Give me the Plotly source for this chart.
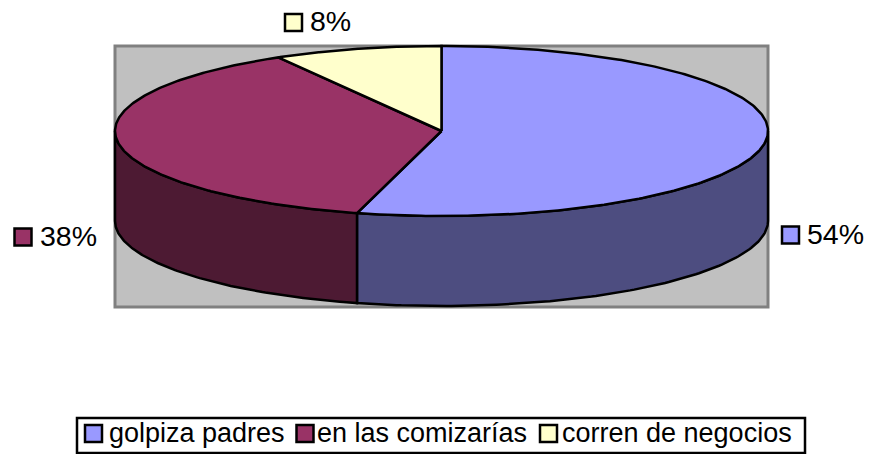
import numpy as np
import plotly.graph_objects as go

# Data
categories = ["golpiza padres", "en las comizarías", "corren de negocios"]
counts = [13, 9, 2]
percent_labels = ["54%", "38%", "8%"]

# Style
top_colors = ["#9999FF", "#993366", "#FFFFCC"]
side_colors = ["#4D4D80", "#4D1A33", "#808066"]
FONT = "Liberation Sans, Arial, sans-serif"
FS_LABEL = 28.5
FS_LEGEND = 27

# Layout geometry (pixel-like axis units)
W, H = 869, 454
CX, CY, RX, RY, DEPTH = 441.5, 131, 326.5, 85, 90
LABEL_MARKERS = [(790.5, 235), (23, 237), (293.5, 22.5)]
LABEL_TEXT_X = [807, 40, 310]
LABEL_TEXT_DY = 1.5
LEGEND_BOX = (77, 418, 805, 453)
LEGEND_MARKERS = [93.5, 305, 548.5]
LEGEND_TEXT_X = [109, 317, 562]
LEGEND_Y = 433.5
LEGEND_TEXT_DY = 1.5


def ell(deg):
    t = np.radians(deg)
    return CX + RX * np.sin(t), CY - RY * np.cos(t)


fig = go.Figure()
line = dict(color="black", width=2.5)
shares = np.array(counts) / sum(counts) * 360
edges = np.concatenate([[0], np.cumsum(shares)])

# sides (visible front half only: 90..270 degrees clockwise from top)
for i in range(len(counts)):
    a, b = max(edges[i], 90), min(edges[i + 1], 270)
    if b <= a:
        continue
    th = np.linspace(a, b, 120)
    x, y = ell(th)
    fig.add_trace(go.Scatter(
        x=np.concatenate([x, x[::-1], x[:1]]),
        y=np.concatenate([y, y[::-1] + DEPTH, y[:1]]),
        mode="lines", fill="toself", fillcolor=side_colors[i], line=line,
        hoverinfo="skip", showlegend=False))

# top faces
for i in range(len(counts)):
    th = np.linspace(edges[i], edges[i + 1], 240)
    x, y = ell(th)
    fig.add_trace(go.Scatter(
        x=np.concatenate([[CX], x, [CX]]),
        y=np.concatenate([[CY], y, [CY]]),
        mode="lines", fill="toself", fillcolor=top_colors[i], line=line,
        name=categories[i], hoverinfo="skip", showlegend=False))


def key(mx, my, color):
    fig.add_trace(go.Scatter(
        x=[mx], y=[my], mode="markers",
        marker=dict(symbol="square", size=17, color=color,
                    line=dict(color="black", width=2.5)),
        hoverinfo="skip", showlegend=False, cliponaxis=False))


def label(tx, ty, text, size):
    fig.add_trace(go.Scatter(
        x=[tx], y=[ty], mode="text", text=[text], textposition="middle right",
        textfont=dict(family=FONT, size=size, color="black"),
        hoverinfo="skip", showlegend=False, cliponaxis=False))


for i, (mx, my) in enumerate(LABEL_MARKERS):
    key(mx, my, top_colors[i])
    label(LABEL_TEXT_X[i], my + LABEL_TEXT_DY, percent_labels[i], FS_LABEL)

for i, mx in enumerate(LEGEND_MARKERS):
    key(mx, LEGEND_Y, top_colors[i])
    label(LEGEND_TEXT_X[i], LEGEND_Y + LEGEND_TEXT_DY, categories[i], FS_LEGEND)

axis = dict(visible=False, fixedrange=True)
fig.update_layout(
    width=W, height=H, margin=dict(l=0, r=0, t=0, b=0),
    paper_bgcolor="white", plot_bgcolor="white", showlegend=False,
    xaxis=dict(range=[0, W], **axis),
    yaxis=dict(range=[H, 0], **axis),
    shapes=[
        dict(type="rect", xref="x", yref="y", x0=CX - RX, x1=CX + RX, y0=CY - RY, y1=307,
             fillcolor="#C0C0C0", line=dict(color="#808080", width=3), layer="below"),
        dict(type="rect", xref="x", yref="y", x0=LEGEND_BOX[0], y0=LEGEND_BOX[1],
             x1=LEGEND_BOX[2], y1=LEGEND_BOX[3], fillcolor="white",
             line=dict(color="black", width=2.5), layer="below"),
    ],
)
fig.write_html("out.html", config={"displayModeBar": False},
               post_script="document.body.style.margin='0';document.body.style.overflow='hidden';")
